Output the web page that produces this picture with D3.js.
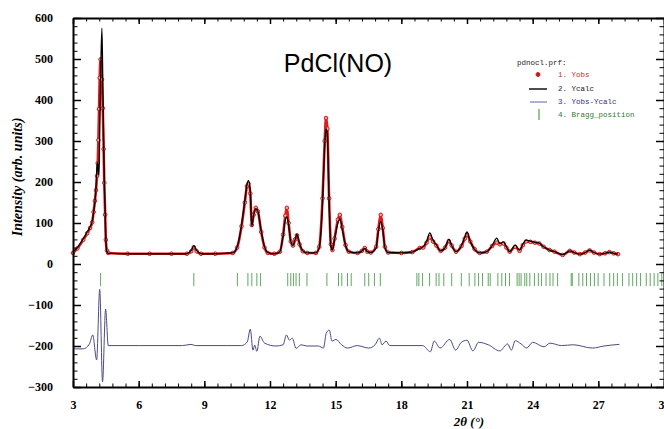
<!DOCTYPE html>
<html>
<head>
  <style>
    body { margin: 0; background: white; }
    text { font-family: "Liberation Serif", serif; }
    .tick text { font-weight: bold; font-size: 12px; }
    .legend text { font-family: "Liberation Mono", "DejaVu Sans Mono", monospace; font-size: 7.5px; }
  </style>
</head>
<body>
  <script src="https://d3js.org/d3.v7.min.js"></script>
  <script>
    var width = 664, height = 429;

    var tth = [3.00, 3.20, 3.47, 3.65, 3.78, 3.88, 3.94, 4.00, 4.05, 4.10, 4.13, 4.16, 4.19, 4.22, 4.26, 4.32, 4.36, 4.40, 4.43, 4.47, 4.50, 4.55, 4.61,
      5.5, 6.5, 7.5, 8.2, 8.4, 8.52, 8.65, 8.85, 9.5, 10.3, 10.5, 10.7, 10.85, 10.95, 11.02, 11.1, 11.17, 11.25, 11.35, 11.45, 11.6, 11.75, 11.9,
      12.2, 12.45, 12.6, 12.7, 12.77, 12.85, 12.95, 13.05, 13.15, 13.23, 13.35, 13.5, 13.7, 14.1, 14.25, 14.4, 14.5, 14.56, 14.62, 14.7, 14.78,
      14.85, 14.95, 15.1, 15.19, 15.3, 15.45, 15.6, 16.0, 16.2, 16.33, 16.45, 16.6, 16.85, 16.95, 17.06, 17.15, 17.25, 17.4, 18.0, 18.5, 18.84,
      19.0, 19.15, 19.3, 19.45, 19.6, 19.8, 20.0, 20.17, 20.3, 20.5, 20.75, 20.9, 21.0, 21.15, 21.35, 21.58, 21.9, 22.15, 22.36, 22.5, 22.67,
      22.8, 22.95, 23.2, 23.4, 23.55, 23.7, 23.9, 24.1, 24.3, 24.5, 24.77, 25.0, 25.37, 25.7, 25.9, 26.15, 26.4, 26.6, 26.8, 27.06, 27.3, 27.5,
      27.7, 27.9];
    var yobs = [27, 38, 59, 75, 88, 102, 127, 154, 180, 215, 246, 302, 378, 454, 499, 450, 380, 280, 198, 120, 59, 33, 27,
      25, 25, 25, 25, 31, 41, 31, 25, 25, 27, 40, 92, 150, 190, 196, 172, 95, 120, 137, 128, 78, 40, 27,
      25, 30, 72, 118, 137, 100, 55, 45, 60, 70, 48, 31, 27, 27, 42, 160, 300, 356, 330, 160, 48,
      34, 62, 108, 120, 90, 46, 30, 27, 32, 39, 30, 28, 42, 85, 120, 88, 42, 28, 27, 29, 39,
      40, 52, 65, 55, 45, 32, 40, 56, 45, 30, 44, 62, 72, 55, 36, 27, 30, 44, 52, 48, 50,
      40, 30, 42, 32, 46, 55, 54, 52, 50, 42, 34, 30, 22, 32, 28, 24, 28, 33, 28, 24, 26, 29,
      26, 24];
    var ycalc = [30, 40, 62, 78, 90, 105, 125, 150, 185, 240, 248, 225, 217, 320, 450, 575, 450, 300, 200, 130, 60, 30, 26,
      25, 25, 25, 25, 33, 44, 33, 25, 25, 27, 42, 95, 155, 195, 203, 175, 92, 118, 135, 128, 80, 42, 28,
      25, 30, 70, 108, 115, 95, 55, 45, 60, 72, 50, 32, 27, 27, 40, 150, 290, 330, 315, 150, 45,
      34, 60, 100, 110, 85, 45, 30, 27, 32, 38, 30, 28, 40, 80, 103, 85, 40, 28, 27, 29, 38,
      42, 55, 76, 58, 47, 32, 40, 60, 45, 30, 45, 66, 78, 55, 35, 27, 30, 45, 63, 50, 54,
      42, 30, 46, 34, 48, 58, 56, 53, 51, 42, 34, 30, 23, 32, 28, 24, 28, 34, 28, 24, 26, 29,
      26, 24];

    // difference curve (Yobs-Ycalc, shifted to -200)
    var diffX = [3.0, 3.11, 3.46, 3.75, 3.9, 4.08, 4.22, 4.35, 4.49, 4.61, 6.0, 8.0, 8.39, 8.6, 10.0, 10.7, 10.96, 11.1, 11.22, 11.3, 11.4, 11.54,
      11.75, 12.27, 12.6, 12.75, 12.89, 13.02, 13.19, 13.42, 13.68, 14.22, 14.44, 14.57, 14.71, 14.83, 15.01, 15.27, 15.54, 15.98, 16.51,
      16.8, 17.0, 17.12, 17.3, 17.47, 18.98, 19.33, 19.5, 19.77, 20.21, 20.48, 20.74, 21.0, 21.27, 21.53, 21.97, 22.5, 22.85, 23.03, 23.2,
      23.47, 23.73, 24.0, 24.52, 24.79, 25.32, 25.85, 26.73, 27.26, 27.96];
    var diffY = [-205, -207, -207, -195, -173, -234, -62, -287, -110, -199, -199, -199, -196, -199, -199, -199, -190, -159, -210, -198, -213, -176,
      -193, -200, -197, -173, -186, -181, -206, -197, -200, -200, -205, -169, -161, -188, -184, -197, -205, -199, -205,
      -197, -181, -197, -188, -199, -199, -214, -188, -205, -184, -210, -191, -186, -212, -191, -197, -212, -195, -210, -187,
      -195, -205, -191, -202, -193, -199, -197, -205, -200, -196];

    // Bragg reflection positions
    var bragg = [4.26, 8.52, 10.51, 10.99, 11.17, 11.40, 11.57, 12.81, 12.95, 13.07, 13.19, 13.34, 13.69, 14.60, 15.13, 15.28, 15.54, 15.71,
      16.33, 16.51, 16.77, 17.04, 18.71, 18.80, 18.97, 19.29, 19.59, 19.72, 19.94, 20.30, 20.74, 21.10, 21.36, 21.53, 21.71, 21.97, 22.06,
      22.41, 22.59, 22.76, 22.94, 23.29, 23.38, 23.47, 23.64, 23.73, 23.87, 24.08, 24.26, 24.40, 24.61, 24.79, 24.93, 25.14, 25.76, 25.81,
      26.11, 26.29, 26.46, 26.64, 26.82, 26.99, 27.26, 27.52, 27.70, 27.87, 28.10, 28.40, 28.57, 28.75, 28.93, 29.19, 29.37, 29.55, 29.72, 29.90];

    var xTicks = [3, 6, 9, 12, 15, 18, 21, 24, 27, 30];
    var yTicks = [-300, -200, -100, 0, 100, 200, 300, 400, 500, 600];

    var x = d3.scaleLinear().domain([3, 30]).range([73, 664]);
    var y = d3.scaleLinear().domain([-300, 600]).range([387, 18]);

    var svg = d3.select("body").append("svg")
        .attr("width", width).attr("height", height);

    var pts = tth.map((t, i) => ({t: t, obs: yobs[i], calc: ycalc[i]}));

    // observed: red band plus markers
    var lineObs = d3.line().x(d => x(d.t)).y(d => y(d.obs)).curve(d3.curveMonotoneX);
    var lineCalc = d3.line().x(d => x(d.t)).y(d => y(d.calc)).curve(d3.curveMonotoneX);

    svg.append("path").datum(pts)
        .attr("d", lineObs)
        .attr("fill", "none").attr("stroke", "#e41a1a").attr("stroke-width", 2.6);

    svg.selectAll("circle.obs").data(pts)
      .enter().append("circle")
        .attr("class", "obs")
        .attr("cx", d => x(d.t)).attr("cy", d => y(d.obs))
        .attr("r", 1.8)
        .attr("fill", "#f0a0a0").attr("stroke", "#d01818").attr("stroke-width", 1);

    svg.append("path").datum(pts)
        .attr("d", lineCalc)
        .attr("fill", "none").attr("stroke", "#000").attr("stroke-width", 1.3);

    // difference
    var diffPts = diffX.map((t, i) => ({t: t, v: diffY[i]}));
    svg.append("path").datum(diffPts)
        .attr("d", d3.line().x(d => x(d.t)).y(d => y(d.v)).curve(d3.curveMonotoneX))
        .attr("fill", "none").attr("stroke", "#4b4b85").attr("stroke-width", 1);

    // bragg ticks
    svg.selectAll("line.bragg").data(bragg)
      .enter().append("line")
        .attr("class", "bragg")
        .attr("x1", d => x(d)).attr("x2", d => x(d))
        .attr("y1", y(-22)).attr("y2", y(-54))
        .attr("stroke", "#2e8b2e").attr("stroke-width", 1).attr("opacity", 0.75);

    // frame and ticks, all pointing inward
    var xMinor = d3.range(0, 46).map(i => 3 + i * 0.6);
    var yMinor = d3.range(-300, 601, 20);

    function styleAxis(g) {
      g.select(".domain").attr("stroke-width", 2);
      g.selectAll(".tick line").attr("stroke-width", 1.5);
    }

    svg.append("g").attr("transform", "translate(0,387)")
        .call(d3.axisBottom(x).tickValues(xMinor).tickSize(-3.5).tickFormat(""))
        .call(g => g.select(".domain").remove());
    svg.append("g").attr("transform", "translate(0,18)")
        .call(d3.axisTop(x).tickValues(xMinor).tickSize(-3.5).tickFormat(""))
        .call(g => g.select(".domain").remove());
    svg.append("g").attr("transform", "translate(73,0)")
        .call(d3.axisLeft(y).tickValues(yMinor).tickSize(-4.5).tickFormat(""))
        .call(g => g.select(".domain").remove());
    svg.append("g").attr("transform", "translate(664,0)")
        .call(d3.axisRight(y).tickValues(yMinor).tickSize(-4.5).tickFormat(""))
        .call(g => g.select(".domain").remove());

    svg.append("g").attr("transform", "translate(0,387)")
        .call(d3.axisBottom(x).tickValues(xTicks).tickSize(-6).tickSizeOuter(0).tickPadding(13).tickFormat(d3.format("d")))
        .call(styleAxis);
    svg.append("g").attr("transform", "translate(0,18)")
        .call(d3.axisTop(x).tickValues(xTicks).tickSize(-6).tickSizeOuter(0).tickFormat(""))
        .call(styleAxis);
    svg.append("g").attr("transform", "translate(73,0)")
        .call(d3.axisLeft(y).tickValues(yTicks).tickSize(-8).tickSizeOuter(0).tickPadding(20).tickFormat(d3.format("d")))
        .call(styleAxis);
    svg.append("g").attr("transform", "translate(664,0)")
        .call(d3.axisRight(y).tickValues(yTicks).tickSize(-8).tickSizeOuter(0).tickFormat(""))
        .call(styleAxis);

    svg.selectAll(".tick text").attr("fill", "#000");

    // axis titles
    svg.append("text")
        .attr("transform", "translate(22,177) rotate(-90)")
        .attr("text-anchor", "middle")
        .style("font-weight", "bold").style("font-style", "italic").style("font-size", "14px")
        .text("Intensity (arb. units)");

    svg.append("text")
        .attr("x", 469).attr("y", 426)
        .attr("text-anchor", "middle")
        .style("font-weight", "bold").style("font-style", "italic").style("font-size", "13px")
        .text("2θ (°)");

    svg.append("text")
        .attr("x", 338).attr("y", 72)
        .attr("text-anchor", "middle")
        .style("font-family", "Liberation Sans, Arial, sans-serif").style("font-size", "25px")
        .text("PdCl(NO)");

    // legend
    var legend = svg.append("g").attr("class", "legend");
    legend.append("text").attr("x", 517).attr("y", 65).attr("fill", "#222").text("pdnocl.prf:");
    legend.append("circle").attr("cx", 538).attr("cy", 74.5).attr("r", 2)
        .attr("fill", "#b02020").attr("stroke", "#e41a1a");
    legend.append("text").attr("x", 558).attr("y", 77).attr("fill", "#c03030").text("1. Yobs");
    legend.append("line").attr("x1", 529).attr("x2", 547).attr("y1", 89).attr("y2", 89)
        .attr("stroke", "#000").attr("stroke-width", 1.4);
    legend.append("text").attr("x", 558).attr("y", 91).attr("fill", "#222").text("2. Ycalc");
    legend.append("line").attr("x1", 530).attr("x2", 547).attr("y1", 102).attr("y2", 102)
        .attr("stroke", "#6060a0").attr("stroke-width", 1);
    legend.append("text").attr("x", 558).attr("y", 104).attr("fill", "#303080").text("3. Yobs-Ycalc");
    legend.append("line").attr("x1", 539).attr("x2", 539).attr("y1", 109).attr("y2", 120)
        .attr("stroke", "#2e8b2e").attr("stroke-width", 1);
    legend.append("text").attr("x", 558).attr("y", 117).attr("fill", "#2e7d2e").text("4. Bragg_position");
  </script>
</body>
</html>
